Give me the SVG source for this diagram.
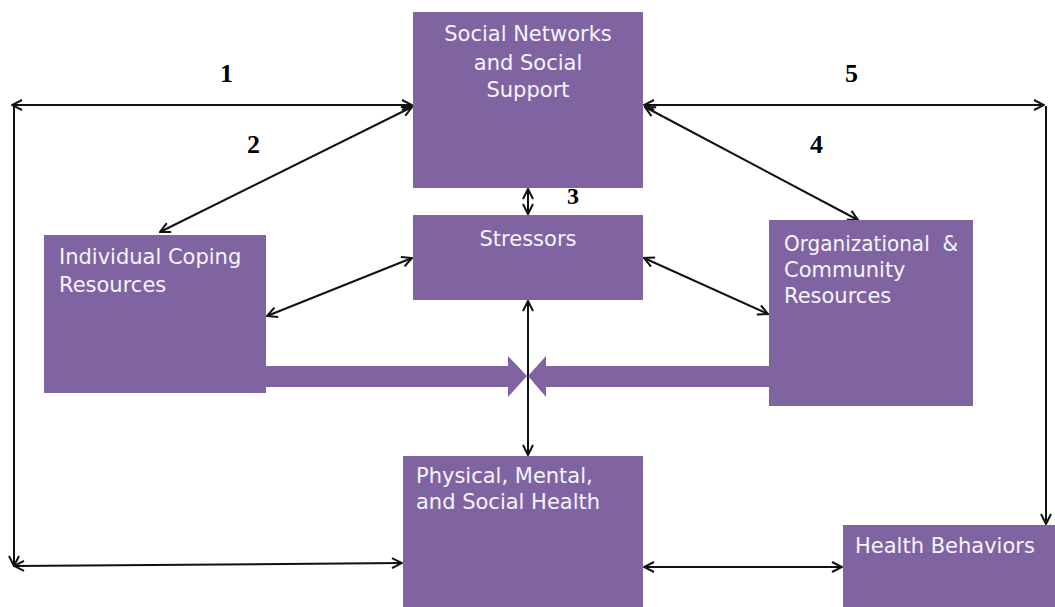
<svg xmlns="http://www.w3.org/2000/svg" width="1055" height="607" viewBox="0 0 1055 607">
<style>
.box{fill:#8064a2}
.t{font-family:"DejaVu Sans",sans-serif;font-size:21px;fill:#f6f4ff}
.n{font-family:"Liberation Serif",serif;font-weight:bold;font-size:26px;fill:#000}
.c{stroke:#111;stroke-width:2;fill:none}
</style>
<defs>
<marker id="a" viewBox="0 0 12 12" refX="11" refY="6" markerWidth="12" markerHeight="12" markerUnits="userSpaceOnUse" orient="auto-start-reverse">
<path d="M1,1 L11,6 L1,11" fill="none" stroke="#111" stroke-width="2"/>
</marker>
</defs>
<rect width="1055" height="607" fill="#fff"/>
<g id="connectors">
<line class="c" x1="12" y1="105" x2="412" y2="105" marker-start="url(#a)" marker-end="url(#a)"/>
<line class="c" x1="14" y1="106" x2="14" y2="566" marker-end="url(#a)"/>
<line class="c" x1="14" y1="566" x2="402" y2="563" marker-start="url(#a)" marker-end="url(#a)"/>
<line class="c" x1="644" y1="105" x2="1044" y2="105" marker-start="url(#a)" marker-end="url(#a)"/>
<line class="c" x1="1046" y1="106" x2="1046" y2="524" marker-end="url(#a)"/>
<line class="c" x1="160" y1="232" x2="412" y2="107" marker-start="url(#a)" marker-end="url(#a)"/>
<line class="c" x1="645" y1="107" x2="858" y2="220" marker-start="url(#a)" marker-end="url(#a)"/>
<line class="c" x1="528" y1="189" x2="528" y2="214" marker-start="url(#a)" marker-end="url(#a)"/>
<line class="c" x1="267" y1="316" x2="412" y2="258" marker-start="url(#a)" marker-end="url(#a)"/>
<line class="c" x1="644" y1="258" x2="768" y2="314" marker-start="url(#a)" marker-end="url(#a)"/>
<line class="c" x1="528" y1="301" x2="528" y2="455" marker-start="url(#a)" marker-end="url(#a)"/>
<line class="c" x1="644" y1="567" x2="842" y2="567" marker-start="url(#a)" marker-end="url(#a)"/>
<path d="M266,366 L508,366 L508,356 L527,376 L508,397 L508,387 L266,387 Z" class="box"/>
<path d="M769,366 L546,366 L546,356 L528,376 L546,397 L546,387 L769,387 Z" class="box"/>
</g>
<g id="social">
<rect class="box" x="413" y="12" width="230" height="176"/>
<text class="t" x="528" y="41" text-anchor="middle">Social Networks</text>
<text class="t" x="528" y="70" text-anchor="middle">and Social</text>
<text class="t" x="528" y="97" text-anchor="middle">Support</text>
</g>
<g id="stressors">
<rect class="box" x="413" y="215" width="230" height="85"/>
<text class="t" x="528" y="246" text-anchor="middle">Stressors</text>
</g>
<g id="individual">
<rect class="box" x="44" y="235" width="222" height="158"/>
<text class="t" x="59" y="264">Individual Coping</text>
<text class="t" x="59" y="292">Resources</text>
</g>
<g id="organizational">
<rect class="box" x="769" y="220" width="204" height="186"/>
<text class="t" x="784" y="251" xml:space="preserve" textLength="174" lengthAdjust="spacingAndGlyphs">Organizational  &amp;</text>
<text class="t" x="784" y="277">Community</text>
<text class="t" x="784" y="303">Resources</text>
</g>
<g id="physical">
<rect class="box" x="403" y="456" width="240" height="151"/>
<text class="t" x="416" y="483">Physical, Mental,</text>
<text class="t" x="416" y="509">and Social Health</text>
</g>
<g id="behaviors">
<rect class="box" x="843" y="525" width="212" height="82"/>
<text class="t" x="855" y="553">Health Behaviors</text>
</g>
<g id="labels">
<text class="n" x="220" y="82">1</text>
<text class="n" x="247" y="153">2</text>
<text class="n" x="567" y="204" style="font-size:24px">3</text>
<text class="n" x="810" y="153">4</text>
<text class="n" x="845" y="82">5</text>
</g>
</svg>
